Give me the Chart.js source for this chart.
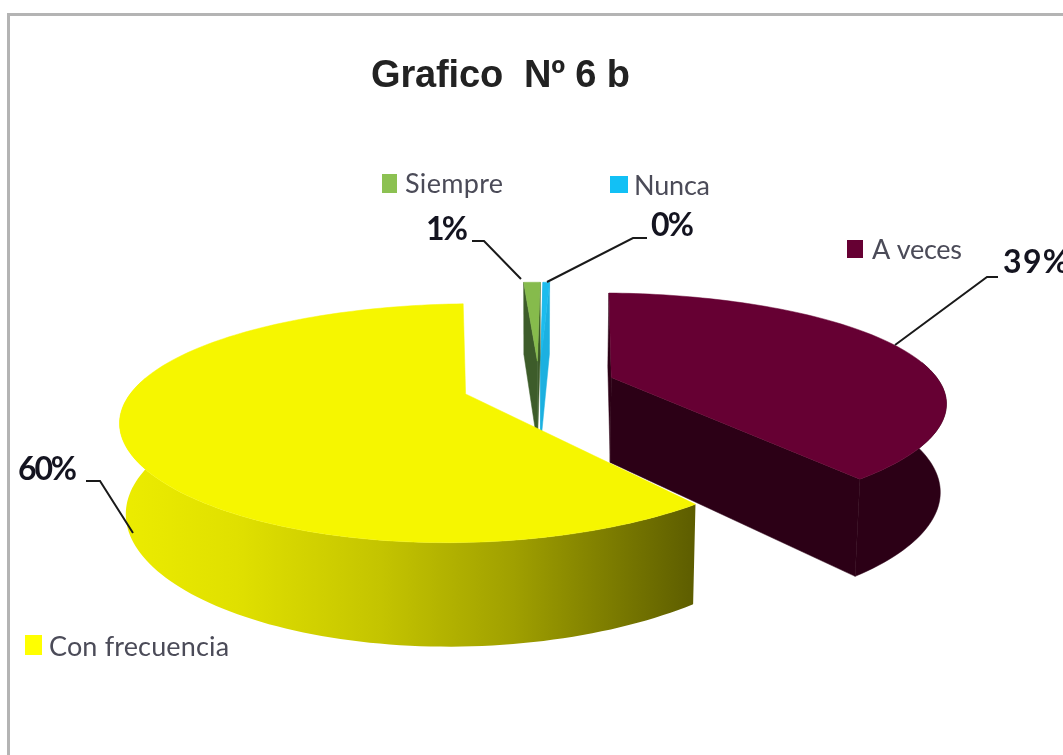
<!DOCTYPE html>
<html><head><meta charset="utf-8">
<style>html,body{margin:0;padding:0;background:#fff;overflow:hidden}canvas{display:block;filter:blur(0.5px)}</style>
<script src="https://cdn.jsdelivr.net/npm/chart.js@4"></script>
</head><body><canvas id="c" width="1063" height="755"></canvas>
<script>
const titleText = 'Grafico  Nº 6 b';
const categories = ['A veces', 'Con frecuencia', 'Siempre', 'Nunca'];
const values = [39, 59.6, 1, 0.4];
const topColors = ['#660033', '#f6f600', '#86bb4c', '#1cbcee'];
const sideColors = ['#2c0016', '#c8c800', '#3d5c2a', '#1cb0e0'];
const legendSwatch = ['#660033', '#ffff00', '#8cc152', '#12c0f5'];

// Label layout (pixels on the page): legend swatch, legend text, percent text and leader line
const legendBoxes = [[847,240,16,18],[25,635,17,20],[382,174,15,19],[610,176,18,17]];
const legendText = [[872,259,90],[49,656,180],[405,193,98],[634,195,76]];
const pctText = [[1003,273,66],[18,480,59],[426,240,42],[651,236,43]];
const leaders = [
  [[998,277],[987,277],[895,345]],
  [[86,481],[100,481],[133,533]],
  [[472,241],[484,241],[521,279]],
  [[647,238],[633,238],[547,282]]
];
// Projection of the tilted 3D pie
const P = {cx:539, cy:385, A:330, B:108, kx:0.2, ky:0.24, kz:0.16, D:86, taper:0.015};
function proj(u,v,z){
  const sx = 1/(1-P.kx*v), sy = 1/(1-P.ky*v), sz = 1/(1-P.kz*v), f = 1-P.taper*z;
  return [P.cx + P.A*u*sx*f, P.cy + P.B*v*sy + P.D*z*sz];
}
function fitText(ctx,str,x,y,w){
  ctx.letterSpacing='0px';
  const m = ctx.measureText(str).width;
  ctx.letterSpacing = ((w-m)/Math.max(1,str.length-1)).toFixed(2)+'px';
  ctx.fillText(str,x,y);
  ctx.letterSpacing='0px';
}
const pie3d = {
  id:'pie3d',
  beforeDatasetsDraw(chart){
    const ctx = chart.ctx, arcs = chart.getDatasetMeta(0).data;
    const poly = (pts,fill)=>{ctx.beginPath();pts.forEach((p,i)=>i?ctx.lineTo(p[0],p[1]):ctx.moveTo(p[0],p[1]));ctx.closePath();ctx.fillStyle=fill;ctx.fill();ctx.strokeStyle=typeof fill==='string'?fill:'rgba(0,0,0,0)';ctx.lineWidth=0.5;ctx.stroke();};
    [0,3,2,1].forEach(i=>{
      const el = arcs[i];
      const a0 = el.startAngle, a1 = el.endAngle, R = el.outerRadius, mid=(a0+a1)/2;
      const d = el.options.offset/R, ou = d*Math.cos(mid), ov = d*Math.sin(mid);
      const n = Math.max(4,Math.ceil((a1-a0)*40));
      const ring = (z,front)=>{const r=[];for(let j=0;j<=n;j++){const a=a0+(a1-a0)*j/n;if(front&&Math.sin(a)<-0.15)continue;r.push(proj(ou+Math.cos(a),ov+Math.sin(a),z));}return r;};
      const t = ring(0,false), c0 = proj(ou,ov,0), c1 = proj(ou,ov,1);
      const tf = ring(0,true), bf = ring(1,true);
      let wallFill = sideColors[i];
      if(i===1){
        const g = ctx.createLinearGradient(122,0,697,0);
        g.addColorStop(0,'#ecec00');g.addColorStop(0.2,'#e0e000');g.addColorStop(0.45,'#c4c400');
        g.addColorStop(0.68,'#a0a000');g.addColorStop(0.85,'#7c7c00');g.addColorStop(1,'#5c5c00');
        wallFill = g;
      }
      if(i!==1){
        const b = ring(1,false);
        poly([c0,t[0],b[0],c1],sideColors[i]);
        poly([c0,t[n],b[n],c1],sideColors[i]);
      }
      if(tf.length>1) poly(tf.concat(bf.slice().reverse()),wallFill);
      poly([c0].concat(t),topColors[i]);
    });
    return false;
  },
  afterDraw(chart){
    const ctx = chart.ctx, total = values.reduce((a,b)=>a+b,0);
    ctx.save();
    ctx.fillStyle='#b4b4b4';
    ctx.fillRect(7,13,1056,3);ctx.fillRect(7,13,3,742);
    ctx.textBaseline='alphabetic';ctx.textAlign='left';
    ctx.fillStyle='#222';ctx.font='bold 38px "Liberation Sans"';
    fitText(ctx,titleText,371,87,259);
    categories.forEach((name,i)=>{
      const b=legendBoxes[i];ctx.fillStyle=legendSwatch[i];ctx.fillRect(b[0],b[1],b[2],b[3]);
      const l=legendText[i];ctx.fillStyle='#4b4b58';ctx.font='27px Lato';fitText(ctx,name,l[0],l[1],l[2]);
      const p=pctText[i];ctx.fillStyle='#141420';ctx.font='bold 32px Lato';fitText(ctx,Math.round(values[i]/total*100)+'%',p[0],p[1],p[2]);
      ctx.strokeStyle='#1a1a1a';ctx.lineWidth=2;ctx.beginPath();
      leaders[i].forEach((q,j)=>j?ctx.lineTo(q[0],q[1]):ctx.moveTo(q[0],q[1]));ctx.stroke();
    });
    ctx.restore();
  }
};
new Chart(document.getElementById('c'),{
  type:'pie',
  data:{labels:categories,datasets:[{data:values,backgroundColor:topColors,offset:70,borderWidth:0}]},
  options:{responsive:false,animation:false,rotation:2,radius:300,
    plugins:{legend:{display:false},tooltip:{enabled:false},title:{display:false}}},
  plugins:[pie3d]
});
</script></body></html>
